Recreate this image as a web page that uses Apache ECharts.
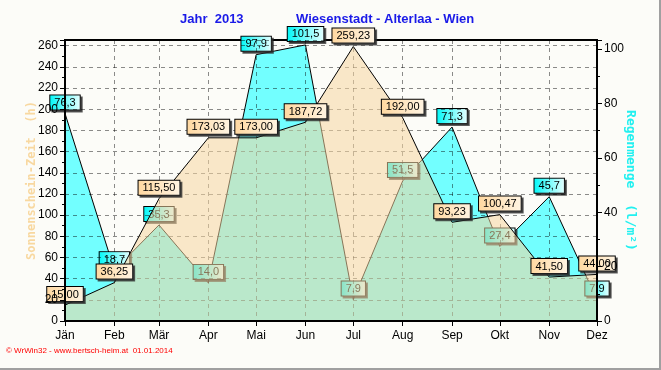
<!DOCTYPE html>
<html><head><meta charset="utf-8">
<script src="https://cdn.jsdelivr.net/npm/echarts@6/dist/echarts.min.js"></script>
<style>html,body{margin:0;padding:0;background:#FCFCF8}#c{width:661px;height:370px}</style>
</head><body><div id="c"></div><script>
const monthLabels = ['Jän','Feb','Mär','Apr','Mai','Jun','Jul','Aug','Sep','Okt','Nov','Dez'];
const monthDays = [0,31,59,90,120,151,181,212,243,273,304,334];
const sunshine = [15.00,36.25,115.50,173.03,173.00,187.72,259.23,192.00,93.23,100.47,41.50,44.00];
const rain = [76.3,18.7,35.3,14.0,97.9,101.5,7.9,51.5,71.3,27.4,45.7,7.9];
const leftTicks = [0,20,40,60,80,100,120,140,160,180,200,220,240,260];
const rightTicks = [0,20,40,60,80,100];

const FONT = 'Liberation Sans';
const chart = echarts.init(document.getElementById('c'), null, {renderer:'canvas'});

function grad(a,b){return {type:'linear',x:0,y:0,x2:1,y2:0,colorStops:[{offset:0,color:a},{offset:1,color:b}]};}
const labelBase = {show:true, position:'top', distance:4, color:'#000', fontSize:11, fontFamily:FONT,
  borderColor:'#000', borderWidth:1, padding:[2,4,1,4], shadowColor:'rgba(40,40,40,0.75)', shadowOffsetX:2, shadowOffsetY:2, shadowBlur:0};

const gridLine = {show:true, lineStyle:{color:'rgba(0,0,0,0.45)', type:[4,4], width:1}};

chart.setOption({
  animation:false,
  backgroundColor:'#FCFCF8',
  title:[
    {text:'Jahr  2013', left:180, top:13, padding:0, textStyle:{color:'#1A1AE8', fontSize:13, fontWeight:'bold', fontFamily:FONT}},
    {text:'Wiesenstadt - Alterlaa - Wien', left:296, top:13, padding:0, textStyle:{color:'#1A1AE8', fontSize:13, fontWeight:'bold', fontFamily:FONT}},
    {text:'© WrWin32 - www.bertsch-heim.at  01.01.2014', left:6, top:347, padding:0, textStyle:{color:'#FF0000', fontSize:8, fontWeight:'normal', fontFamily:FONT}}
  ],
  graphic:[{type:'polyline', shape:{points:[[660,0],[660,369],[0,369]]}, style:{stroke:'#A0A0A0', lineWidth:2, fill:null}, silent:true}],
  grid:{left:65, right:64, top:40, bottom:49, show:true, borderColor:'#000', borderWidth:2, backgroundColor:'transparent'},
  xAxis:[
    {type:'value', min:0, max:334, z:2, axisLine:{show:false}, axisLabel:{show:false},
      axisTick:{show:false, customValues:monthDays}, splitLine:gridLine},
    {type:'value', min:0, max:334, z:10, position:'bottom',
      axisLine:{show:true, onZero:false, lineStyle:{color:'#000', width:2}},
      axisTick:{show:true, customValues:monthDays, length:5, lineStyle:{color:'#000'}},
      axisLabel:{customValues:monthDays, margin:9, color:'#000', fontSize:12, fontFamily:FONT,
        formatter:v=>monthLabels[monthDays.indexOf(v)] || ''},
      splitLine:{show:false}}
  ],
  yAxis:[
    {type:'value', min:0, max:265.4, interval:20, position:'left', z:2,
      axisLine:{show:false}, axisTick:{show:false}, axisLabel:{show:false}, splitLine:gridLine},
    {type:'value', min:0, max:265.4, interval:20, position:'left', z:10,
      axisLine:{show:true, onZero:false, lineStyle:{color:'#000', width:2}},
      axisTick:{show:true, length:5, lineStyle:{color:'#000'}},
      minorTick:{show:true, splitNumber:2, length:3, lineStyle:{color:'#000'}},
      axisLabel:{customValues:leftTicks, margin:7, color:'#000', fontSize:12, fontFamily:FONT},
      splitLine:{show:false},
      name:'Sonnenschein-Zeit  (h)', nameLocation:'middle', nameRotate:90, nameGap:27, nameMoveOverlap:false,
      nameTextStyle:{color:'#F8D8A0', fontSize:12, fontWeight:'bold', fontFamily:'DejaVu Sans Mono'}},
    {type:'value', min:0, max:103.3, interval:20, position:'right', z:10,
      axisLine:{show:true, onZero:false, lineStyle:{color:'#000', width:2}},
      axisTick:{show:true, length:5, lineStyle:{color:'#000'}},
      minorTick:{show:true, splitNumber:2, length:3, lineStyle:{color:'#000'}},
      axisLabel:{customValues:rightTicks, margin:7, color:'#000', fontSize:12, fontFamily:FONT},
      splitLine:{show:false},
      name:'Regenmenge  (l/m²)', nameLocation:'middle', nameRotate:-90, nameGap:27, nameMoveOverlap:false,
      nameTextStyle:{color:'#22F0F0', fontSize:13, fontWeight:'bold', fontFamily:'DejaVu Sans Mono'}}
  ],
  series:[
    {name:'Regenmenge', type:'line', xAxisIndex:0, yAxisIndex:2, z:1, silent:true,
      data:monthDays.map((d,i)=>[d, rain[i]]),
      symbol:'circle', symbolSize:0, showSymbol:true,
      lineStyle:{color:'#000', width:1}, itemStyle:{color:'#000'},
      areaStyle:{color:'#72FFFF', opacity:1},
      label:Object.assign({}, labelBase, {backgroundColor:grad('#00F8F8','#E8FFFF'),
        formatter:p=>p.value[1].toFixed(1).replace('.',',')})},
    {name:'Sonnenschein', type:'line', xAxisIndex:0, yAxisIndex:1, z:3, silent:true,
      data:monthDays.map((d,i)=>[d, sunshine[i]]),
      symbol:'circle', symbolSize:0, showSymbol:true,
      lineStyle:{color:'#000', width:1}, itemStyle:{color:'#000'},
      areaStyle:{color:'rgba(245,214,160,0.55)', opacity:1},
      label:Object.assign({}, labelBase, {backgroundColor:grad('#FFD8A0','#FFF4E2'),
        formatter:p=>p.value[1].toFixed(2).replace('.',',')})}
  ]
});
</script></body></html>
